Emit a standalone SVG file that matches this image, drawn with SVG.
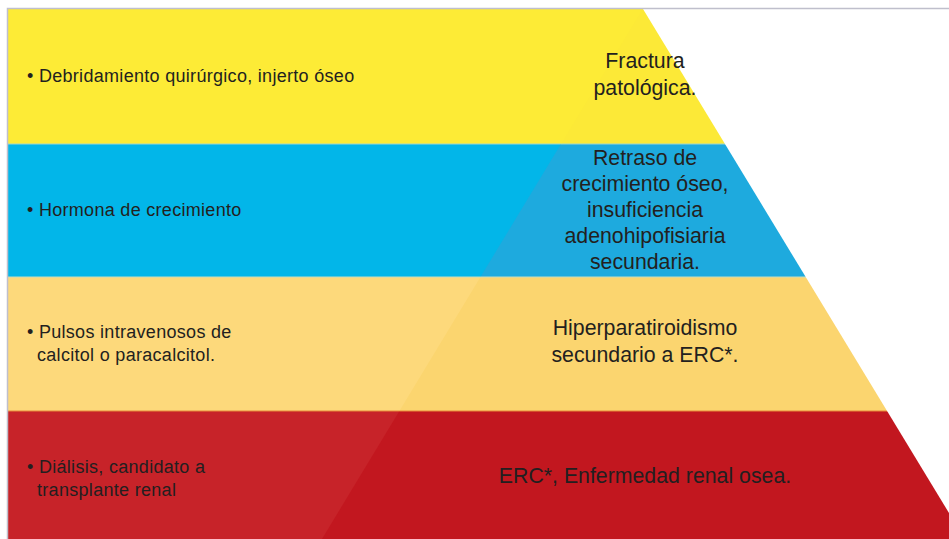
<svg xmlns="http://www.w3.org/2000/svg" width="949" height="539" viewBox="0 0 949 539">
<defs>
<style>
.l{font-family:"Liberation Sans",Arial,sans-serif;font-size:18px;letter-spacing:0.3px;fill:#231f20}
.r{font-family:"Liberation Sans",Arial,sans-serif;font-size:21.3px;fill:#231f20;text-anchor:middle}
</style>
<clipPath id="pyr"><polygon points="645,5 322,539 980,539"/></clipPath>
</defs>
<rect width="949" height="539" fill="#ffffff"/>
<g id="bands">
<rect x="8" y="9" width="941" height="135" fill="#fdeb36"/>
<rect x="8" y="144" width="941" height="133" fill="#02b6e9"/>
<rect x="8" y="277" width="941" height="134" fill="#fdd97b"/>
<rect x="8" y="411" width="941" height="128" fill="#c72329"/>
<line x1="8" y1="144" x2="949" y2="144" stroke="#9fd6cf" stroke-width="1"/>
<line x1="8" y1="277" x2="949" y2="277" stroke="#c5dcc0" stroke-width="1"/>
<line x1="8" y1="411" x2="949" y2="411" stroke="#e88a3a" stroke-width="1.2"/>
</g>
<g id="pyramid" clip-path="url(#pyr)">
<rect x="0" y="9" width="949" height="135" fill="#fce937"/>
<rect x="0" y="144" width="949" height="133" fill="#1eaade"/>
<rect x="0" y="277" width="949" height="134" fill="#fbd56f"/>
<rect x="0" y="411" width="949" height="128" fill="#c2171f"/>
<line x1="0" y1="144" x2="949" y2="144" stroke="#9fd6cf" stroke-width="1"/>
<line x1="0" y1="277" x2="949" y2="277" stroke="#c5dcc0" stroke-width="1"/>
<line x1="0" y1="411" x2="949" y2="411" stroke="#e88a3a" stroke-width="1.2"/>
</g>
<polygon points="643,9 949,9 949,513" fill="#ffffff"/>
<g id="frame" fill="none" stroke="#bfbfcc" stroke-width="1.5">
<polyline points="7.5,539 7.5,8.5 949,8.5"/>
</g>
<g id="row1">
<text class="l" x="27" y="82">• Debridamiento quirúrgico, injerto óseo</text>
<text class="r" x="645" y="68">Fractura</text>
<text class="r" x="645" y="95">patológica.</text>
</g>
<g id="row2">
<text class="l" x="27" y="216">• Hormona de crecimiento</text>
<text class="r" x="645" y="165">Retraso de</text>
<text class="r" x="645" y="191">crecimiento óseo,</text>
<text class="r" x="645" y="217">insuficiencia</text>
<text class="r" x="645" y="243">adenohipofisiaria</text>
<text class="r" x="645" y="269">secundaria.</text>
</g>
<g id="row3">
<text class="l" x="27" y="338">• Pulsos intravenosos de</text>
<text class="l" x="37" y="361">calcitol o paracalcitol.</text>
<text class="r" x="645" y="335">Hiperparatiroidismo</text>
<text class="r" x="645" y="362">secundario a ERC*.</text>
</g>
<g id="row4">
<text class="l" x="27" y="473">• Diálisis, candidato a</text>
<text class="l" x="37" y="496">transplante renal</text>
<text class="r" x="645" y="483">ERC*, Enfermedad renal osea.</text>
</g>
</svg>
